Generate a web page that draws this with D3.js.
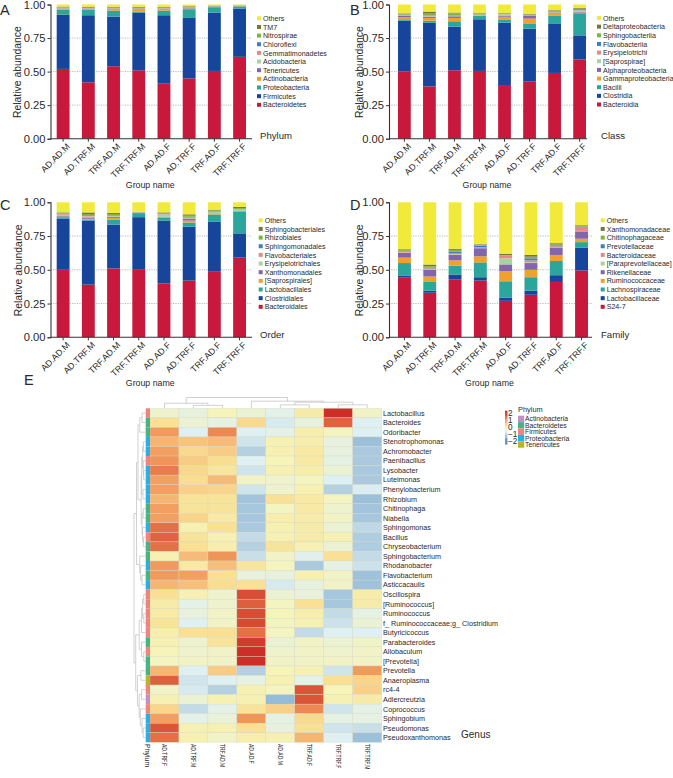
<!DOCTYPE html>
<html><head><meta charset="utf-8">
<script src="https://cdn.jsdelivr.net/npm/d3@7"></script>
<style>html,body{margin:0;padding:0;background:#fff}svg{display:block}text{font-family:"Liberation Sans",Arial,sans-serif;fill:#2a2a2a}</style>
</head><body><svg id="c" width="673" height="778"></svg>
<script>
const groups = ["AD.AD.M","AD.TRF.M","TRF.AD.M","TRF.TRF.M","AD.AD.F","AD.TRF.F","TRF.AD.F","TRF.TRF.F"];
const yTicks = [0,0.25,0.5,0.75,1];
const stackColors = ["#c8183c","#17459b","#2ca59c","#f0a02c","#8266ad","#a8d2a0","#e08b88","#3d7fc2","#7fb43a","#76763a","#f2ea3a"];

const phylumNames = ["Bacteroidetes","Firmicutes","Proteobacteria","Actinobacteria","Tenericutes","Acidobacteria","Gemmatimonadetes","Chloroflexi","Nitrospirae","TM7","Others"];
const phylumValues = [
 [.52,.42,.54,.51,.41,.45,.505,.61],
 [.405,.50,.37,.43,.51,.45,.435,.36],
 [.035,.04,.045,.005,.035,.065,.04,.015],
 [.006,.006,.006,.02,.012,.004,.002,.002],
 [.004,.002,.004,.003,.003,.004,.001,.001],
 [.003,.002,.004,.002,.002,.003,.001,.001],
 [.003,.003,.004,.002,.002,.002,.001,.001],
 [.002,.002,.002,.002,.002,.002,.001,.001],
 [.002,.002,.003,.003,.002,.002,.002,.001],
 [.004,.005,.005,.005,.004,.005,.004,.002],
 [.016,.018,.017,.018,.018,.013,.008,.006]];

const classNames = ["Bacteroidia","Clostridia","Bacilli","Gammaproteobacteria","Alphaproteobacteria","[Saprospirae]","Erysipelotrichi","Flavobacteriia","Sphingobacteriia","Deltaproteobacteria","Others"];
const classValues = [
 [.50,.39,.51,.505,.40,.425,.49,.59],
 [.38,.475,.325,.385,.465,.395,.365,.18],
 [.01,.015,.04,.025,.02,.035,.06,.165],
 [.015,.02,.025,.003,.02,.04,.02,.005],
 [.01,.01,.012,.002,.008,.02,.005,.005],
 [.003,.004,.004,.002,.015,.002,.002,.01],
 [.003,.003,.003,.002,.002,.003,.002,.002],
 [.003,.003,.003,.002,.003,.002,.002,.002],
 [.006,.012,.012,.004,.003,.005,.008,.008],
 [.004,.015,.006,.005,.002,.004,.004,.006],
 [.066,.053,.06,.065,.062,.069,.042,.027]];

const orderNames = ["Bacteroidales","Clostridiales","Lactobacillales","[Saprospirales]","Xanthomonadales","Erysipelotrichales","Flavobacteriales","Sphingomonadales","Rhizobiales","Sphingobacteriales","Others"];
const orderValues = [
 [.50,.39,.51,.505,.40,.42,.49,.59],
 [.38,.475,.325,.385,.465,.40,.365,.18],
 [.01,.005,.035,.03,.02,.03,.055,.16],
 [.003,.008,.015,.001,.004,.015,.005,.003],
 [.005,.01,.008,.002,.004,.014,.003,.003],
 [.01,.007,.005,.002,.017,.004,.01,.01],
 [.005,.005,.005,.001,.003,.005,.003,.003],
 [.003,.005,.003,.001,.002,.005,.003,.002],
 [.004,.008,.008,.002,.003,.008,.005,.007],
 [.005,.012,.007,.001,.007,.01,.006,.008],
 [.075,.075,.079,.07,.075,.089,.055,.034]];

const familyNames = ["S24-7","Lactobacillaceae","Lachnospiraceae","Ruminococcaceae","Rikenellaceae","[Paraprevotellaceae]","Bacteroidaceae","Prevotellaceae","Chitinophagaceae","Xanthomonadaceae","Others"];
const familyValues = [
 [.445,.33,.43,.42,.27,.315,.41,.495],
 [.01,.015,.035,.025,.025,.03,.05,.17],
 [.095,.065,.065,.11,.12,.10,.105,.04],
 [.04,.04,.04,.045,.075,.055,.045,.025],
 [.035,.05,.04,.06,.05,.05,.055,.055],
 [.003,.004,.004,.002,.045,.005,.002,.003],
 [.01,.008,.01,.005,.02,.015,.008,.03],
 [.002,.003,.012,.012,.002,.015,.002,.002],
 [.006,.012,.012,.005,.002,.012,.012,.003],
 [.006,.012,.008,.005,.01,.013,.008,.007],
 [.348,.461,.344,.311,.381,.39,.303,.17]];

const heatColumns = ["AD.TRF.F","AD.TRF.M","TRF.AD.M","AD.AD.F","AD.AD.M","TRF.AD.F","TRF.TRF.F","TRF.TRF.M"];
const genera = ["Lactobacillus","Bacteroides","Odoribacter","Stenotrophomonas","Achromobacter","Paenibacillus","Lysobacter","Luteimonas","Phenylobacterium","Rhizobium","Chitinophaga","Niabella","Sphingomonas","Bacillus","Chryseobacterium","Sphingobacterium","Rhodanobacter","Flavobacterium","Asticcacaulis","Oscillospira","[Ruminococcus]","Ruminococcus","f_ Ruminococcaceae;g_ Clostridium","Butyricicoccus","Parabacteroides","Allobaculum","[Prevotella]","Prevotella","Anaeroplasma","rc4-4","Adlercreutzia","Coprococcus","Sphingobium","Pseudomonas","Pseudoxanthomonas"];
const generaPhylum = ["F","B","B","P","P","F","P","P","P","P","B","B","P","F","B","B","P","B","P","F","F","F","F","F","B","F","B","B","T","F","A","F","P","P","P"];
const heatValues = [
 [-.15,-.3,0,-.2,-.4,.15,2.2,-.1],
 [.35,-.2,-.35,.45,-.6,-.3,1.6,-.5],
 [1.15,-.5,1.3,-.5,-.4,.1,-.05,-.5],
 [.85,.7,.8,-.7,.05,.1,-.3,-1.3],
 [1.1,.45,.6,-1.0,.05,.2,-.3,-1.1],
 [1.2,.6,.4,-.5,0,.2,-.35,-1.1],
 [1.4,.45,.25,-.7,.05,.1,-.2,-1.1],
 [1.1,.4,.8,-.1,-.15,-.05,-.5,-1.1],
 [1.1,.55,.5,-.7,-.15,.05,-1.0,-.55],
 [.85,.3,.3,-1.2,.35,.2,-.05,-1.3],
 [1.1,.3,.3,-1.15,-.05,.2,-.15,-1.2],
 [1.1,.5,.2,-1.15,.1,.15,-.1,-1.15],
 [1.5,.05,.35,-1.1,.05,.15,-.2,-.9],
 [1.6,.3,.05,-.85,.05,.15,.05,-1.05],
 [1.5,.35,.1,-1.0,.3,.05,-.2,-1.05],
 [.05,.8,1.2,-.8,-.1,-.45,.35,-.85],
 [1.15,.2,.75,.25,-.05,-1.1,-.35,-.75],
 [1.15,1.1,.35,-.3,-.3,.05,-.1,-1.25],
 [.85,.75,.4,.35,-.6,-.3,-.1,-1.25],
 [.35,.05,-.15,1.85,-.2,-.3,-1.15,.15],
 [.15,-.4,-.15,1.65,-.05,.35,-1.15,.15],
 [.2,-.3,-.1,1.85,0,.1,-.85,-.35],
 [.3,-.5,-.1,1.9,-.05,.05,-.75,-.2],
 [.1,.35,.35,1.5,-.05,-.85,-.5,-.5],
 [.05,-.15,.3,2.05,-.2,-.1,-.2,-.1],
 [0,-.15,-.1,2.2,-.15,-.1,-.15,-.1],
 [-.05,-.1,-.1,2.2,-.1,-.1,-.1,-.1],
 [.85,-.5,.6,-1.0,0,.05,-.7,1.15],
 [1.65,-.7,-.5,-.35,.05,-.4,.35,.5],
 [-.1,-.6,-1.0,.05,-.05,1.75,0,.55],
 [.05,-.2,.05,.05,-1.4,1.75,.05,.15],
 [.5,-.85,-.4,.3,.55,1.3,-.7,-.4],
 [1.1,-.4,-.25,1.2,-.35,.45,-.35,-.35],
 [1.75,.05,.05,.35,-.3,.35,-.7,-.8],
 [1.5,.05,-.1,.1,.05,.85,-.5,-1.3]];
const heatStops = [-1.6,-1.1,-.8,-.5,-.2,0,.4,.8,1.2,1.6,2.2];
const heatStopColors = ["#86b2d2","#aac9de","#c8dfe8","#dff0f2","#ebf2d4","#f6f4b8","#f9dd90","#f6bb78","#f0955a","#e0633f","#cc2f27"];
const phylumKeys = ["A","B","F","P","T"];
const phylumLabels = ["Actinobacteria","Bacteroidetes","Firmicutes","Proteobacteria","Tenericutes"];
const phylumColors = ["#c291c4","#45b383","#ee857c","#29aee6","#b9b52a"];
const colorbarTicks = [2,1,0,-1,-2];
// dendrograms: [merge height, child, child]; a number is a leaf index
const colTree = [1,[.45,0,[.25,1,2]],[.65,3,[.55,[.3,4,5],[.3,6,7]]]];
const rowTree = [1,
 [.78,[.65,[.5,[.3,0,1],2],[.38,[.33,[.25,[.18,3,4],[.2,5,[.15,6,7]]],[.22,8,9]],[.3,[.2,10,11],[.25,12,[.18,13,14]]]]],[.5,15,[.42,16,[.3,17,18]]]],
 [.85,[.55,[.35,[.25,[.15,19,20],[.15,21,22]],23],[.35,24,[.15,25,26]]],[.7,[.4,27,28],[.55,[.35,29,30],[.45,31,[.3,32,[.2,33,34]]]]]]];

const svg = d3.select("#c");

function barPanel(o){
  const g = svg.append("g");
  const x = d3.scaleBand().domain(groups).range([o.x0,o.x1]).paddingInner(.49).paddingOuter(0);
  const y = d3.scaleLinear().domain([0,1]).range([o.yb,o.yt]);
  const rows = groups.map((k,i)=>{const r={k};o.names.forEach((n,j)=>r[n]=o.values[j][i]);return r;});
  const st = d3.stack().keys(o.names)(rows);
  g.selectAll("line.grid").data(yTicks.filter(t=>t>0&&t<1)).join("line")
   .attr("x1",o.ax).attr("x2",o.axEnd).attr("y1",d=>y(d)).attr("y2",d=>y(d))
   .attr("stroke","#999").attr("stroke-width",.7).attr("stroke-dasharray","1.2 1.2");
  g.selectAll("g.s").data(st).join("g").attr("fill",(d,i)=>stackColors[i])
   .selectAll("rect").data(d=>d).join("rect")
   .attr("x",d=>x(d.data.k)).attr("width",x.bandwidth())
   .attr("y",d=>y(Math.min(d[1],1))).attr("height",d=>Math.max(0,y(d[0])-y(Math.min(d[1],1))));
  const ya = g.append("g").attr("transform",`translate(${o.ax},0)`)
    .call(d3.axisLeft(y).tickValues(yTicks).tickFormat(d3.format(".2f")).tickSize(3).tickPadding(2));
  ya.select(".domain").attr("stroke","#333").attr("stroke-width",1.1);
  ya.selectAll(".tick line").attr("stroke","#333").attr("stroke-width",1);
  ya.selectAll("text").attr("font-size",11.2);
  const xa = g.append("g").attr("transform",`translate(0,${o.yb})`)
    .call(d3.axisBottom(x).tickSize(3).tickSizeOuter(0));
  xa.select(".domain").attr("d",`M${o.ax},0H${o.axEnd}`).attr("stroke","#333").attr("stroke-width",1.1);
  xa.selectAll(".tick line").attr("stroke","#333");
  xa.selectAll("text").attr("font-size",8.8).attr("text-anchor","end")
    .attr("transform","translate(3,4) rotate(-45)").attr("dy",".35em").attr("y",3).attr("x",0);
  g.append("text").attr("transform",`translate(${o.ytx},${(o.yt+o.yb)/2+.5}) rotate(-90)`)
    .attr("text-anchor","middle").attr("font-size",10.4).text("Relative abundance");
  g.append("text").attr("x",(o.ax+o.axEnd)/2-1).attr("y",o.yb+49).attr("text-anchor","middle").attr("font-size",8.8).text("Group name");
  g.append("text").attr("x",o.titleX).attr("y",o.yb+.5).attr("font-size",9.6).text(o.title);
  g.append("text").attr("x",o.letterX).attr("y",o.letterY).attr("font-size",14.5).text(o.letter);
  const leg = g.append("g");
  const ly = d3.scalePoint().domain(d3.range(11)).range([o.legY,o.legY+86.5]);
  const names = o.names.slice().reverse();
  leg.selectAll("rect").data(names).join("rect")
    .attr("x",o.legX).attr("y",(d,i)=>ly(i)-2).attr("width",4).attr("height",4)
    .attr("fill",(d,i)=>stackColors[10-i]);
  leg.selectAll("text").data(names).join("text")
    .attr("x",o.legX+6).attr("y",(d,i)=>ly(i)+2.6).attr("font-size",7.1).text(d=>d);
}
barPanel({letter:"A",letterX:0,letterY:15,title:"Phylum",titleX:260,names:phylumNames,values:phylumValues,x0:56.7,x1:246,ax:50.5,axEnd:252,yt:4.5,yb:138.7,ytx:21,legX:257,legY:18.3});
barPanel({letter:"B",letterX:350,letterY:15,title:"Class",titleX:601,names:classNames,values:classValues,x0:398,x1:586,ax:389,axEnd:587,yt:4.5,yb:138.7,ytx:363,legX:597,legY:18});
barPanel({letter:"C",letterX:0,letterY:210,title:"Order",titleX:260,names:orderNames,values:orderValues,x0:56.7,x1:246,ax:50.5,axEnd:252,yt:202.3,yb:337.3,ytx:22,legX:258.7,legY:220.3});
barPanel({letter:"D",letterX:350,letterY:210,title:"Family",titleX:601,names:familyNames,values:familyValues,x0:398,x1:588,ax:389,axEnd:592,yt:202.3,yb:337.3,ytx:363,legX:600.7,legY:220.3});

// heatmap
const hx = d3.scaleBand().domain(heatColumns).range([150,381.7]);
const hy = d3.scaleBand().domain(genera).range([408.3,742.3]);
const hc = d3.scaleLinear().domain(heatStops).range(heatStopColors).clamp(true);
const hm = svg.append("g");
hm.selectAll("g").data(heatValues).join("g").attr("transform",(d,i)=>`translate(0,${hy(genera[i])})`)
  .selectAll("rect").data(d=>d).join("rect")
  .attr("x",(d,j)=>hx(heatColumns[j])).attr("width",hx.bandwidth()).attr("height",hy.bandwidth())
  .attr("fill",d=>hc(d)).attr("stroke","#d5d8c4").attr("stroke-width",.35);
const pc = d3.scaleOrdinal(phylumKeys,phylumColors);
hm.selectAll("rect.side").data(generaPhylum).join("rect").attr("class","side")
  .attr("x",145.7).attr("width",4.3).attr("y",(d,i)=>hy(genera[i])).attr("height",hy.bandwidth()).attr("fill",d=>pc(d));
hm.selectAll("text.row").data(genera).join("text").attr("class","row")
  .attr("x",383).attr("y",d=>hy(d)+hy.bandwidth()/2+2.6).attr("font-size",7.2).text(d=>d);
const bottom = ["Phylum"].concat(heatColumns);
hm.selectAll("text.col").data(bottom).join("text").attr("class","col")
  .attr("transform",(d,i)=>i
     ? `translate(${hx(d)+hx.bandwidth()/2-2.5},744) rotate(90) scale(.72,1)`
     : `translate(145,744) rotate(90)`)
  .attr("font-size",7).text(d=>d);
svg.append("text").attr("x",461).attr("y",737.5).attr("font-size",10).text("Genus");
svg.append("text").attr("x",24).attr("y",385).attr("font-size",14.5).text("E");

function dendro(tree,pos,scale,horizontal){
  const segs=[];
  (function walk(n){
    if(typeof n==="number") return {p:pos(n),h:0};
    const a=walk(n[1]),b=walk(n[2]),h=n[0];
    segs.push([a.p,a.h,a.p,h],[b.p,b.h,b.p,h],[a.p,h,b.p,h]);
    return {p:(a.p+b.p)/2,h};
  })(tree);
  svg.append("g").attr("stroke","#bdbdbd").attr("stroke-width",.7).attr("fill","none")
    .selectAll("line").data(segs).join("line")
    .attr(horizontal?"y1":"x1",d=>d[0]).attr(horizontal?"x1":"y1",d=>scale(d[1]))
    .attr(horizontal?"y2":"x2",d=>d[2]).attr(horizontal?"x2":"y2",d=>scale(d[3]));
}
dendro(colTree,i=>hx(heatColumns[i])+hx.bandwidth()/2,d3.scaleLinear().domain([0,1]).range([408,397.5]),false);
dendro(rowTree,i=>hy(genera[i])+hy.bandwidth()/2,d3.scaleLinear().domain([0,1]).range([145.5,134]),true);

// colour key
const cb = d3.scaleLinear().domain([2.38,-2.38]).range([410.7,444]);
const cbG = svg.append("g");
cbG.selectAll("rect").data(d3.range(2.38,-2.38,-.2)).join("rect")
  .attr("x",505).attr("width",2.4).attr("y",d=>cb(d)).attr("height",cb(0)-cb(.2)+.3).attr("fill",d=>d<-1.6?"#5f92bd":hc(d));
cbG.selectAll("text").data(colorbarTicks).join("text")
  .attr("x",508).attr("y",d=>cb(d)+3).attr("font-size",8.2).text(d=>d<0?"\u2212"+(-d):d);
svg.append("text").attr("x",518).attr("y",412).attr("font-size",7.4).text("Phylum");
const ky = d3.scaleBand().domain(phylumLabels).range([415.7,447.7]);
const kg = svg.append("g");
kg.selectAll("rect").data(phylumLabels).join("rect").attr("x",518).attr("width",6.2)
  .attr("y",d=>ky(d)).attr("height",ky.bandwidth()).attr("fill",(d,i)=>phylumColors[i]);
kg.selectAll("text").data(phylumLabels).join("text").attr("x",525).attr("y",d=>ky(d)+ky.bandwidth()/2+2.4)
  .attr("font-size",6.8).text(d=>d);
</script></body></html>
